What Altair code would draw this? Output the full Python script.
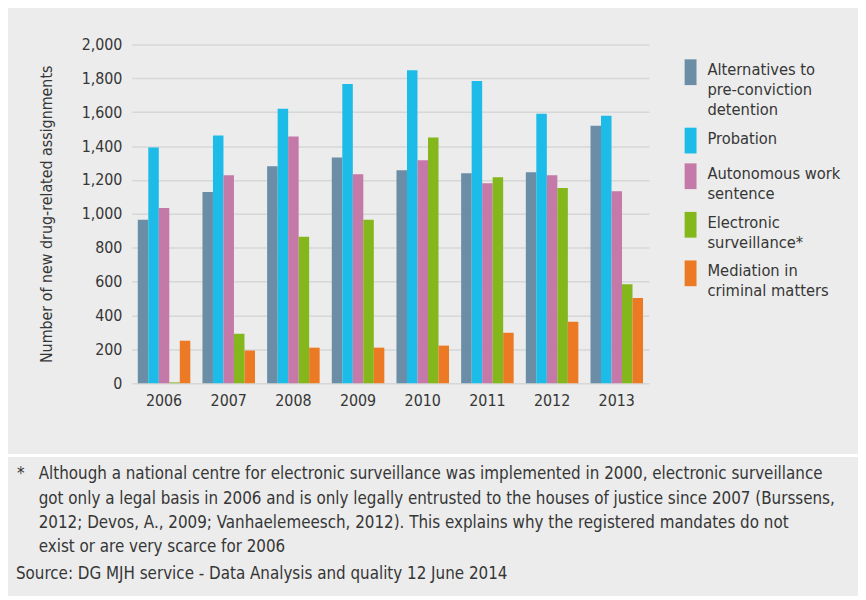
import json
import altair as alt
import pandas as pd

# ---------------- data ----------------
years = ["2006", "2007", "2008", "2009", "2010", "2011", "2012", "2013"]
series = [
    "Alternatives to pre-conviction detention",
    "Probation",
    "Autonomous work sentence",
    "Electronic surveillance*",
    "Mediation in criminal matters",
]
legend_lines = [
    ["Alternatives to", "pre-conviction", "detention"],
    ["Probation"],
    ["Autonomous work", "sentence"],
    ["Electronic", "surveillance*"],
    ["Mediation in", "criminal matters"],
]
alternatives = [965, 1129, 1281, 1333, 1257, 1240, 1246, 1520]
probation = [1392, 1462, 1620, 1766, 1848, 1784, 1591, 1579]
autonomous = [1035, 1228, 1456, 1234, 1316, 1181, 1228, 1134]
electronic = [5, 292, 865, 965, 1450, 1216, 1152, 585]
mediation = [251, 193, 210, 210, 222, 298, 363, 503]
colors = ["#6b8ea6", "#1cbbe8", "#c479a9", "#84b71b", "#ec7a24"]
y_ticks = list(range(0, 2001, 200))
y_title = "Number of new drug-related assignments"
footnote_mark = "*"
footnote_lines = [
    "Although a national centre for electronic surveillance was implemented in 2000, electronic surveillance",
    "got only a legal basis in 2006 and is only legally entrusted to the houses of justice since 2007 (Burssens,",
    "2012; Devos, A., 2009; Vanhaelemeesch, 2012). This explains why the registered mandates do not",
    "exist or are very scarce for 2006",
]
source_line = "Source: DG MJH service - Data Analysis and quality 12 June 2014"

# ---------------- build table ----------------
rows = []
for s, vals in zip(series, [alternatives, probation, autonomous, electronic, mediation]):
    for yr, v in zip(years, vals):
        rows.append({"year": yr, "series": s, "value": v})
df = pd.DataFrame(rows)
one = pd.DataFrame({"k": [0]})

label_expr = ""
for s, lines in zip(series, legend_lines):
    label_expr += f"datum.label === {json.dumps(s)} ? {json.dumps(lines)} : "
label_expr += "datum.label"

FONT = "DejaVu Sans Condensed, sans-serif"
TXT = "#363636"
W, H = 522, 342
PAD_L, PAD_T = 125, 34
FN_SIZE = 17

bars = alt.Chart(df).mark_bar().encode(
    x=alt.X(
        "year:N",
        sort=years,
        scale=alt.Scale(paddingInner=0.188, paddingOuter=0.092),
        axis=alt.Axis(
            title=None, labelAngle=0, labelFontSize=16, labelFont=FONT,
            labelColor=TXT, labelPadding=9, domain=False, ticks=False,
            tickSize=0, grid=False,
        ),
    ),
    xOffset=alt.XOffset("series:N", sort=series,
                        scale=alt.Scale(paddingInner=0, paddingOuter=0)),
    y=alt.Y(
        "value:Q",
        scale=alt.Scale(domain=[0, 2000], nice=False),
        axis=alt.Axis(
            values=y_ticks, format=",d", title=y_title, titleFontSize=16,
            titleFont=FONT, titleColor=TXT, titleFontWeight="normal",
            titleAngle=-90, titleX=-86, titleY=H / 2, titleAlign="center",
            titleBaseline="middle",
            labelFontSize=16, labelFont=FONT, labelColor=TXT, labelPadding=10,
            domain=False, ticks=False, tickSize=0, grid=True,
            gridColor="#d6d8d7", gridWidth=1.5,
        ),
    ),
    color=alt.Color(
        "series:N",
        sort=series,
        scale=alt.Scale(domain=series, range=colors),
        legend=alt.Legend(
            title=None, orient="none", legendX=555.75, legendY=10,
            symbolType="M-0.75,-0.4H0.75V2.85H-0.75Z", symbolSize=256,
            symbolStrokeWidth=0, symbolOpacity=1,
            labelExpr=label_expr, labelFontSize=16.5, labelFont=FONT,
            labelColor=TXT, labelBaseline="top", labelOffset=8.75,
            labelLimit=300, rowPadding=4,
        ),
    ),
)

sep = alt.Chart(one).mark_rule(color="white", strokeWidth=3).encode(
    x=alt.value(-PAD_L), x2=alt.value(W + 300), y=alt.value(415)
)
star = alt.Chart(one).mark_text(
    align="left", baseline="top", font=FONT, fontSize=FN_SIZE, color=TXT
).encode(x=alt.value(17 - 133), y=alt.value(426), text=alt.value(footnote_mark))
notes = alt.Chart(one).mark_text(
    align="left", baseline="top", font=FONT, fontSize=FN_SIZE, color=TXT, lineHeight=24.5
).encode(x=alt.value(39 - 133), y=alt.value(426), text=alt.value(footnote_lines))
source = alt.Chart(one).mark_text(
    align="left", baseline="top", font=FONT, fontSize=FN_SIZE, color=TXT
).encode(x=alt.value(16 - 133), y=alt.value(527), text=alt.value(source_line))

chart = alt.layer(bars, sep, star, notes, source).properties(
    width=W, height=H,
    autosize=alt.AutoSizeParams(type="none"),
    padding={"left": PAD_L, "top": PAD_T, "right": 211, "bottom": 212},
).configure(
    background="#ebeceb",
    style={"guide-label": {"lineHeight": 20}},
).configure_view(stroke=None)

chart.save("out.html", embed_options={"renderer": "svg", "actions": False})
